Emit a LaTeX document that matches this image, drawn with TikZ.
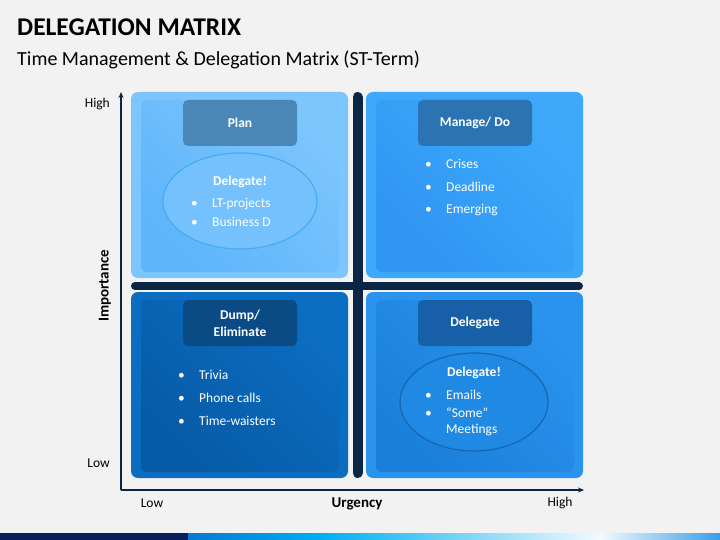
\documentclass[tikz,border=0pt]{standalone}
\usepackage{fontspec}
\setmainfont{Carlito}
\usetikzlibrary{positioning,shapes.geometric,arrows.meta}

\definecolor{pagebg}{HTML}{F2F2F2}
\definecolor{axisnavy}{HTML}{0B2545}
\definecolor{barnavy}{HTML}{0A1F5C}
\definecolor{barblue}{HTML}{0A78CF}
\definecolor{barcyan}{HTML}{00AEEF}
\definecolor{barwhite}{HTML}{F2FAFF}
\definecolor{barend}{HTML}{3A9DE6}
\definecolor{tlouter}{HTML}{7DC5FD}
\definecolor{tlinner}{HTML}{5EB5FA}
\definecolor{tlhead}{HTML}{4A86B6}
\definecolor{tlring}{HTML}{46ACF5}
\definecolor{tlbubble}{HTML}{74C1FD}
\definecolor{trouter}{HTML}{3EA9FB}
\definecolor{trinner}{HTML}{2E95F2}
\definecolor{trhead}{HTML}{2B73B2}
\definecolor{blouter}{HTML}{0B6DC2}
\definecolor{blinner}{HTML}{075AA5}
\definecolor{blhead}{HTML}{0A4A85}
\definecolor{brouter}{HTML}{2A93EE}
\definecolor{brinner}{HTML}{1A7FD9}
\definecolor{brhead}{HTML}{175FA6}
\definecolor{brring}{HTML}{1766B0}
\definecolor{brbubble}{HTML}{2089E3}

\tikzset{
  cellhead/.style={rounded corners=5pt, minimum width=114pt, minimum height=46pt,
    inner sep=0pt, text=white, align=center, font=\bfseries\fontsize{13.5}{17}\selectfont},
  bubble/.style={ellipse, line width=1.2pt, inner sep=0pt},
  itemtext/.style={anchor=west, inner sep=0pt, text=white, font=\fontsize{13.5}{16}\selectfont},
  bubbletitle/.style={inner sep=0pt, text=white, font=\bfseries\fontsize{13.5}{16}\selectfont},
  axislabel/.style={inner sep=0pt, font=\fontsize{13.5}{16}\selectfont},
  axistitle/.style={inner sep=0pt, font=\bfseries\fontsize{15}{18}\selectfont},
}

\NewDocumentCommand{\matcell}{mmmmmmm}{%
\begin{scope}[shift={(#2,#3)}]%
\fill[#4, rounded corners=7pt] (0,0) rectangle (217,186);%
\shade[rounded corners=6pt, left color=#5, right color=#4, shading angle=135] (10,8) rectangle (208,180);%
\node[cellhead, fill=#6] (#1) at (109,31) {#7};%
\end{scope}%
}

\newcommand{\dotitem}[1]{\makebox[21pt][l]{\textbullet}#1}

\begin{document}
\begin{tikzpicture}[x=1pt, y=-1pt]
\useasboundingbox (0,0) rectangle (720,540);
\fill[pagebg] (0,0) rectangle (720,540);

% title
\node[anchor=base west, inner sep=0pt, font=\bfseries\fontsize{25.5}{30}\selectfont] (title) at (17,36) {DELEGATION MATRIX};
\node[anchor=base west, inner sep=0pt, font=\fontsize{20}{24}\selectfont] (subtitle) at (17,66) {Time Management \& Delegation Matrix (ST-Term)};

% quadrants
\matcell{plan}{131}{92}{tlouter}{tlinner}{tlhead}{Plan}
\matcell{manage}{366}{92}{trouter}{trinner}{trhead}{Manage/ Do}
\matcell{dump}{131}{292}{blouter}{blinner}{blhead}{Dump/\\Eliminate}
\matcell{deleg}{366}{292}{brouter}{brinner}{brhead}{Delegate}

% dividers
\draw[axisnavy, line width=10pt, line cap=round] (357.5,97) -- (357.5,473);
\draw[axisnavy, line width=8pt, line cap=round] (135,286) -- (579,286);

% plan bubble
\node[bubble, draw=tlring, fill=tlbubble, minimum width=154pt, minimum height=96pt] (planbub) at (240,201) {};
\node[bubbletitle] (plantitle) at (240,182) {Delegate!};
\foreach \t [count=\i] in {LT-projects,Business D}
  \node[itemtext] (plan\i) at (191,{186+18*\i}) {\dotitem{\t}};

% manage items
\foreach \t [count=\i] in {Crises,Deadline,Emerging}
  \node[itemtext] (manage\i) at (425,{141+23*\i}) {\dotitem{\t}};

% dump items
\foreach \t [count=\i] in {Trivia,Phone calls,Time-waisters}
  \node[itemtext] (dump\i) at (178,{352+23*\i}) {\dotitem{\t}};

% delegate bubble
\node[bubble, draw=brring, fill=brbubble, minimum width=148pt, minimum height=98pt] (delegbub) at (474,402) {};
\node[bubbletitle] (delegtitle) at (474,373) {Delegate!};
\node[itemtext] (deleg1) at (425,395) {\dotitem{Emails}};
\node[itemtext] (deleg2) at (425,413) {\dotitem{``Some''}};
\node[itemtext] (deleg3) at (446,430) {Meetings};

% axes
\coordinate (origin) at (121,490);
\coordinate (ytip) at (121,92);
\coordinate (xtip) at (584,490);
\draw[axisnavy, line width=2pt, -{Stealth[length=6pt,width=5pt]}] (origin) -- (ytip);
\draw[axisnavy, line width=2pt, -{Stealth[length=6pt,width=5pt]}] (origin) -- (xtip);
\node[axislabel, anchor=east] (yhigh) at (110,104) {High};
\node[axislabel, anchor=east] (ylow) at (110,463) {Low};
\node[axistitle, rotate=90] (ytitle) at (105,286) {Importance};
\node[axislabel] (xlow) at (152,503) {Low};
\node[axistitle] (xtitle) at (357,504) {Urgency};
\node[axislabel] (xhigh) at (560,503) {High};

% bottom band
\fill[barnavy] (0,533) rectangle (188,540);
\shade[left color=barblue, right color=barcyan] (188,533) rectangle (320,540);
\shade[left color=barcyan, right color=barwhite] (320,533) rectangle (600,540);
\shade[left color=barwhite, right color=barend] (600,533) rectangle (720,540);
\end{tikzpicture}
\end{document}
